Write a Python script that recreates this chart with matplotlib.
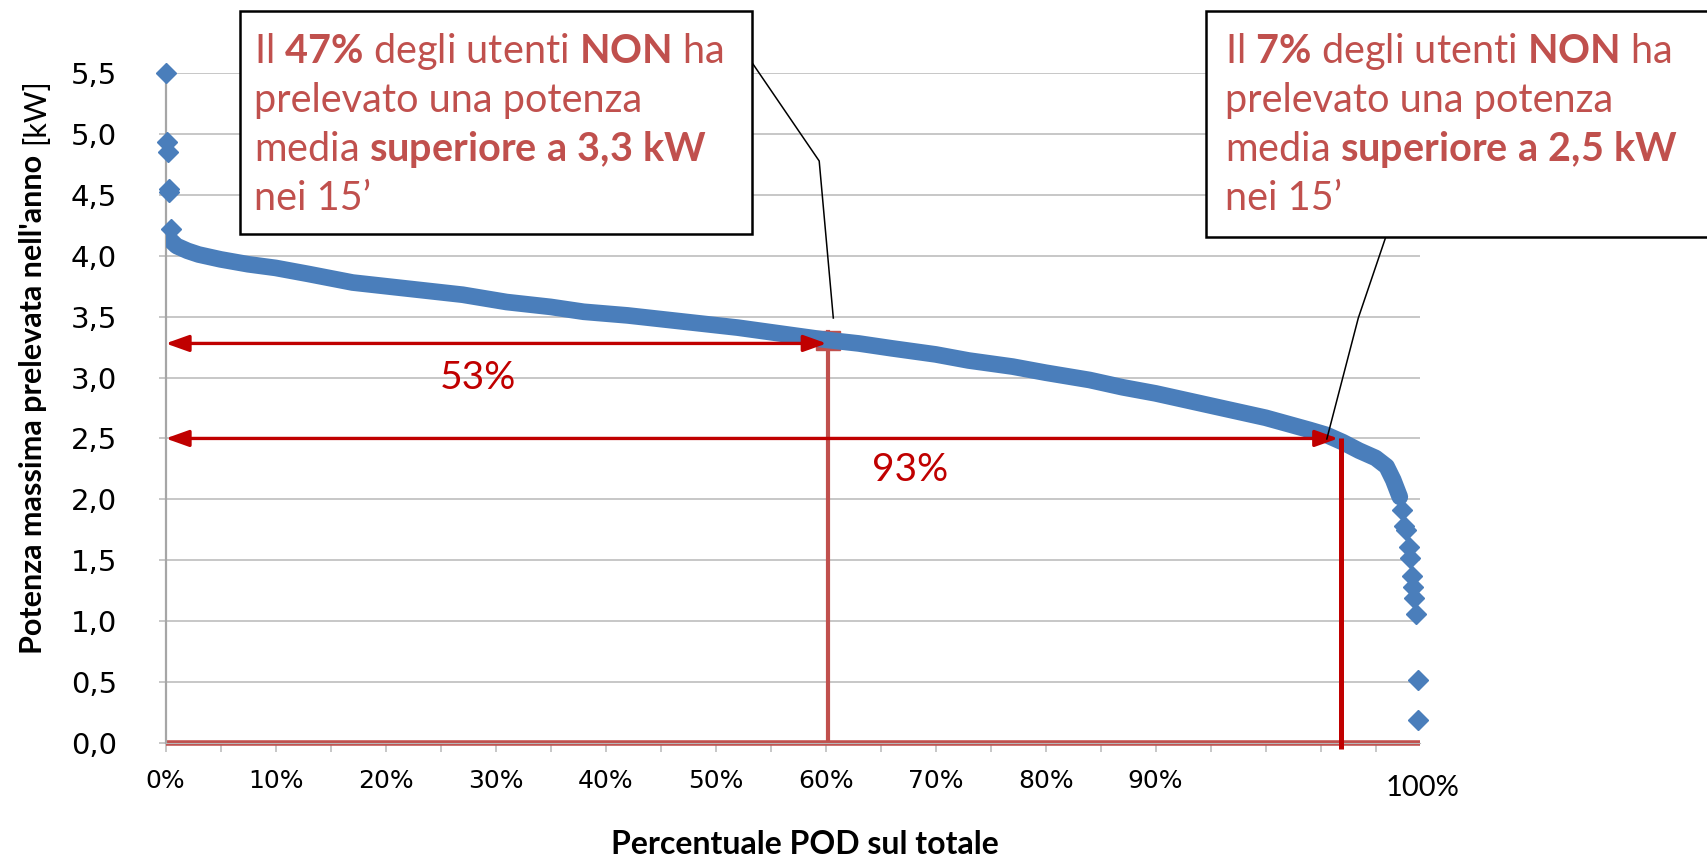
import matplotlib
matplotlib.use("Agg")
import matplotlib.pyplot as plt
from matplotlib.patches import Rectangle

# ---- data (x in axis units: 10 units = one "10%" step) ----
band_x = [0.3, 1, 2, 3, 5, 7.5, 10, 13, 17, 20, 24, 27, 31, 35, 38, 42, 45, 49, 52, 56,
          60, 63, 66, 70, 73, 77, 80, 84, 87, 90, 94, 97, 100, 102, 104, 105.5, 107,
          108.5, 110, 111, 111.6, 112.2]
band_y = [4.14, 4.08, 4.04, 4.01, 3.97, 3.93, 3.90, 3.85, 3.78, 3.75, 3.71, 3.68, 3.62,
          3.58, 3.54, 3.51, 3.48, 3.44, 3.41, 3.36, 3.31, 3.28, 3.24, 3.19, 3.14, 3.09,
          3.04, 2.98, 2.92, 2.87, 2.79, 2.73, 2.67, 2.62, 2.57, 2.53, 2.47, 2.40, 2.34,
          2.27, 2.16, 2.02]
head_x = [0.0, 0.15, 0.25, 0.3, 0.35, 0.45]
head_y = [5.50, 4.93, 4.85, 4.55, 4.52, 4.22]
tail_x = [112.4, 112.6, 112.8, 113.0, 113.1, 113.3, 113.4, 113.5, 113.7, 113.9, 113.9]
tail_y = [1.91, 1.78, 1.75, 1.61, 1.52, 1.37, 1.28, 1.19, 1.06, 0.52, 0.19]
x_end = 114.0

thresholds = [3.28, 2.50]          # kW
split_x = [60.2, 106.9]            # where 53% / 93% fall on the axis
share_labels = ["53%", "93%"]
share_pos = [(28.4, 3.00), (67.7, 2.24)]

y_ticks = [0, 0.5, 1, 1.5, 2, 2.5, 3, 3.5, 4, 4.5, 5, 5.5]
y_labels = ["0,0", "0,5", "1,0", "1,5", "2,0", "2,5", "3,0", "3,5", "4,0", "4,5", "5,0", "5,5"]
x_major = [0, 10, 20, 30, 40, 50, 60, 70, 80, 90]
x_labels = ["0%", "10%", "20%", "30%", "40%", "50%", "60%", "70%", "80%", "90%"]

box_lines = [
    [r"Il $\mathbf{47\%}$ degli utenti $\mathbf{NON}$ ha",
     "prelevato una potenza",
     r"media $\mathbf{superiore\ a\ 3{,}3\ kW}$",
     "nei 15’"],
    [r"Il $\mathbf{7\%}$ degli utenti $\mathbf{NON}$ ha",
     "prelevato una potenza",
     r"media $\mathbf{superiore\ a\ 2{,}5\ kW}$",
     "nei 15’"],
]

BLUE = "#4a7ebb"
DARKRED = "#c00000"
PINK = "#c0504d"
GRID = "#b8b8b8"

plt.rcParams["mathtext.fontset"] = "custom"
plt.rcParams["mathtext.rm"] = "Lato"
plt.rcParams["mathtext.bf"] = "Lato:bold"
plt.rcParams["mathtext.it"] = "Lato:italic"

W, H = 1708, 858
fig = plt.figure(figsize=(W / 100, H / 100), dpi=100)
ax = fig.add_axes([165.6 / W, 115 / H, (1419.6 - 165.6) / W, 670 / H])
ax.set_xlim(0, x_end)
ax.set_ylim(0, 5.5)

# grid + axes styling (Excel look)
ax.set_yticks(y_ticks)
ax.set_yticklabels(y_labels, fontsize=21, family="DejaVu Sans")
ticks = list(range(0, 115, 5))
ax.set_xticks(ticks)
ax.set_xticklabels([x_labels[x_major.index(t)] if t in x_major else "" for t in ticks],
                   fontsize=18, family="DejaVu Sans")
ax.grid(axis="y", color=GRID, lw=1.1, zorder=0)
ax.set_axisbelow(True)
ax.tick_params(axis="y", length=5, color=GRID, width=1.1, pad=30)
ax.tick_params(axis="x", length=6.5, color=GRID, width=1.1, pad=12)
for s in ["top", "right"]:
    ax.spines[s].set_visible(False)
ax.spines["left"].set_color("#a6a6a6")
ax.spines["left"].set_linewidth(1.6)
ax.spines["bottom"].set_color(GRID)

# pink baseline and drop line at 53%
ax.plot([0, x_end], [0, 0], color=PINK, lw=4, solid_capstyle="butt", zorder=2, clip_on=False)
ax.plot([split_x[0], split_x[0]], [0, 3.37], color=PINK, lw=3, zorder=2)
ax.add_patch(Rectangle((split_x[0] - 1.1, 3.23), 2.2, 0.15, color=PINK, zorder=2))

# blue data
ax.plot(band_x, band_y, color=BLUE, lw=12, solid_capstyle="round",
        solid_joinstyle="round", zorder=3)
ax.plot(head_x, head_y, "D", ms=10, color=BLUE, zorder=3, clip_on=False)
ax.plot(tail_x, tail_y, "D", ms=10, color=BLUE, zorder=3, clip_on=False)

# red arrows + vertical at 93%
for thr, sx in zip(thresholds, [split_x[0] - 0.1, split_x[1] - 0.3]):
    ax.annotate("", xy=(0, thr), xytext=(sx, thr),
                arrowprops=dict(arrowstyle="<|-|>,head_length=0.7,head_width=0.25",
                                color=DARKRED, lw=2.4, mutation_scale=20,
                                shrinkA=0, shrinkB=0), zorder=5)
ax.plot([split_x[1], split_x[1]], [-0.05, thresholds[1]], color=DARKRED, lw=3.6,
        solid_capstyle="butt", zorder=5, clip_on=False)
for lab, (px, py) in zip(share_labels, share_pos):
    ax.text(px, py, lab, color=DARKRED, fontsize=28, family="Lato",
            ha="center", va="center", zorder=6)

ax.text(114.3, -0.37, "100%", fontsize=21, family="Lato", ha="center", va="center",
        clip_on=False)


def fx(px):
    return px / W


def fy(py):
    return 1 - py / H


# leader lines (figure pixel layout)
leaders = [([751.6, 819.2, 833.3], [62, 161, 318]),
           ([1385.6, 1358.3, 1326.8], [237.5, 318, 439])]
for xs, ys in leaders:
    fig.add_artist(plt.Line2D([fx(v) for v in xs], [fy(v) for v in ys],
                              color="black", lw=1.1, zorder=7))

# callout boxes
boxes = [(239.6, 10.9, 751.6, 234.2), (1205.9, 10.9, 1730, 237.5)]
text_left = [254, 1225]
baselines = [63, 112, 161, 210]
for (x0, y0, x1, y1), tl, lines in zip(boxes, text_left, box_lines):
    fig.add_artist(Rectangle((fx(x0), fy(y1)), fx(x1 - x0), (y1 - y0) / H,
                             transform=fig.transFigure, facecolor="white",
                             edgecolor="black", lw=1.8, zorder=8))
    for b, line in zip(baselines, lines):
        fig.text(fx(tl), fy(b), line, color=PINK, fontsize=28.5, family="Lato",
                 ha="left", va="baseline", zorder=9)

# axis titles
fig.text(fx(805), fy(844), "Percentuale POD sul totale", fontsize=23, family="Lato",
         fontweight="bold", ha="center", va="center")
renderer = fig.canvas.get_renderer()
ylab = fig.text(fx(33), fy(653.6), "Potenza massima prelevata nell'anno ", rotation=90,
                fontsize=22, family="Lato", fontweight="bold", ha="center", va="bottom")
ext = ylab.get_window_extent(renderer)
fig.text(fx(33) + 0.0015, ext.y1 / H + 0.004, "[kW]", rotation=90, fontsize=22,
         family="Lato", ha="center", va="bottom")

fig.savefig("out.png", dpi=100)
